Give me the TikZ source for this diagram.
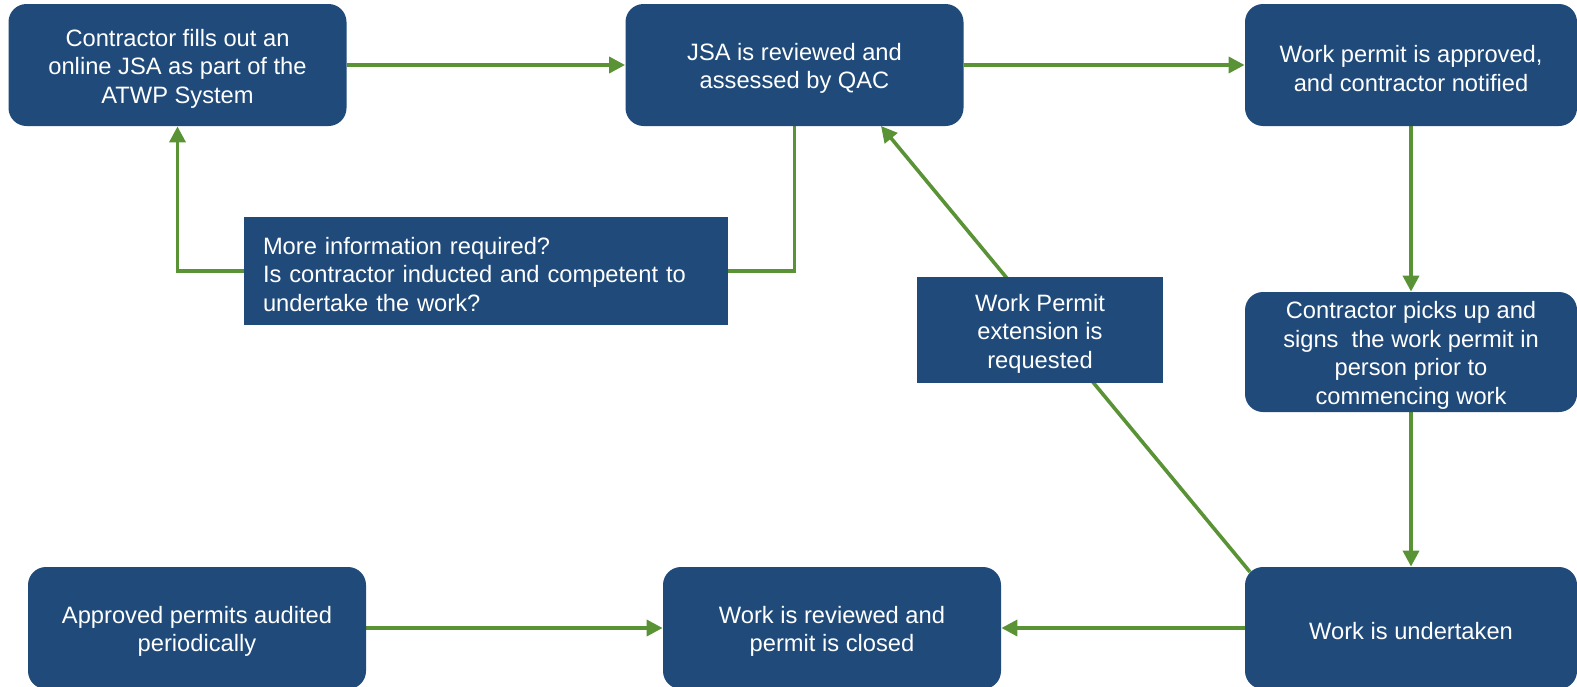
\documentclass[tikz,border=0pt]{standalone}
\usepackage{fontspec}
\setmainfont{Liberation Sans}
\usetikzlibrary{arrows.meta,calc}
\definecolor{boxblue}{RGB}{31,74,122}
\definecolor{arrgreen}{RGB}{90,146,54}
\pgfdeclarelayer{background}
\pgfsetlayers{background,main}
\begin{document}
\begin{tikzpicture}[x=0.5pt,y=-0.5pt,
  txt/.style={font=\fontsize{11.85}{14.25}\selectfont, text=white, align=center, inner sep=0pt, yshift=-1.75pt},
  rbox/.style={fill=boxblue, draw=none, rounded corners=9pt, minimum width=169pt, minimum height=61pt, inner sep=0pt},
  nbox/.style={rbox, minimum width=166pt},
  sbox/.style={fill=boxblue, draw=none, inner sep=0pt},
  link/.style={draw=arrgreen, line width=1.8pt},
  arr/.style={link, -{Triangle[length=8pt,width=8pt]}}]
\useasboundingbox (0,0) rectangle (1577,686);
\node[rbox, label={[txt]center:{Contractor fills out an\\online JSA as part of the\\ATWP System}}] (A) at (177.5,65) {};
\node[rbox, label={[txt]center:{JSA is reviewed and\\assessed by QAC}}] (B) at (794.5,65) {};
\node[nbox, label={[txt]center:{Work permit is approved,\\and contractor notified}}] (C) at (1411,65) {};
\node[nbox, minimum height=60pt, label={[txt]center:{Contractor picks up and\\signs\ \ the work permit in\\person prior to\\commencing work}}] (D) at (1411,352) {};
\node[nbox, label={[txt]center:{Work is undertaken}}] (E) at (1411,628) {};
\node[rbox, label={[txt]center:{Work is reviewed and\\permit is closed}}] (F) at (832,628) {};
\node[rbox, label={[txt]center:{Approved permits audited\\periodically}}] (G) at (197,628) {};
\node[sbox, minimum width=242pt, minimum height=54pt, label={[txt, align=left, text width=223pt]center:{More information required?\\Is contractor inducted and competent to\\undertake the work?}}] (H) at (486,271) {};
\node[sbox, minimum width=123pt, minimum height=53pt, label={[txt]center:{Work Permit\\extension is\\requested}}] (I) at (1040,330) {};
\coordinate (etop) at (1250,572);
\coordinate (btip) at (881,126);
\begin{pgfonlayer}{background}
\draw[arr] (A.east) -- (B.west);
\draw[arr] (B.east) -- (C.west);
\draw[arr] (C.south) -- (D.north);
\draw[arr] (D.south) -- (E.north);
\draw[arr] (E.west) -- (F.east);
\draw[arr] (G.east) -- (F.west);
\draw[link] (B.south) |- (H.east);
\draw[arr] (H.west) -| (A.south);
\draw[arr] (etop) -- (btip);
\end{pgfonlayer}
\end{tikzpicture}
\end{document}
